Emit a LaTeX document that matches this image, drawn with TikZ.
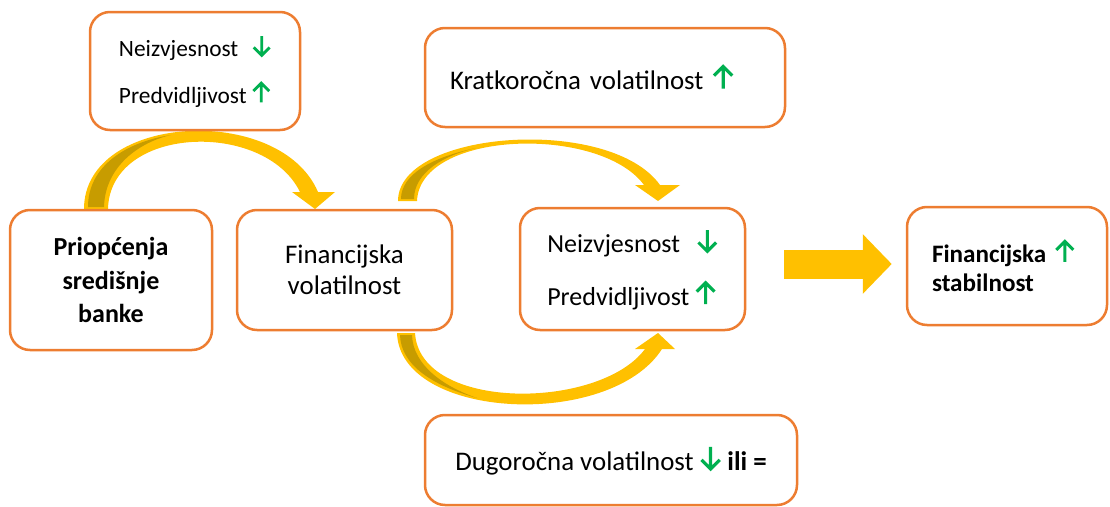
\documentclass[tikz,border=0pt]{standalone}
\usepackage{fontspec}
\setmainfont{Carlito}
\usetikzlibrary{arrows.meta}

\definecolor{narancasta}{HTML}{ED7D31}
\definecolor{zuta}{HTML}{FFC000}
\definecolor{tamnozuta}{HTML}{C79C00}
\definecolor{zelena}{HTML}{00B050}

\newdimen\pik
\pik=0.02cm
% green up / down arrows, sized by the current font
\tikzset{strelica/.style={x=1em, y=1em, baseline=-0.04em, sharp corners,
  line cap=butt, line join=miter}}
\newcommand{\rast}{\tikz[strelica]
  \draw[zelena, line width=0.12em] (0,0) -- (0,0.82) (-0.34,0.48) -- (0,0.82) -- (0.34,0.48);}
\newcommand{\pad}{\tikz[strelica]
  \draw[zelena, line width=0.12em] (0,0.82) -- (0,0) (-0.34,0.34) -- (0,0) -- (0.34,0.34);}

\begin{document}
\begin{tikzpicture}[x=0.02cm, y=-0.02cm,
  kutija/.style={draw=narancasta, line width=2.5\pik, rounded corners=20\pik,
    fill=white, align=center, inner sep=0pt},
  veliki/.style={font=\fontsize{15.3}{18.4}\selectfont}]
  \useasboundingbox (0,0) rectangle (1110,507);

  % Curved arrows (drawn first, boxes cover the ends)
  \fill[zuta] (84,209) .. controls (84,113) and (280,103) .. (318,192)
    -- (300,192) .. controls (265,120) and (110,125) .. (108,209) -- cycle;
  \fill[zuta] (292,192) -- (335,192) -- (315,209) -- cycle;
  \fill[tamnozuta] (88,207) .. controls (88,166) and (126,142) .. (171,135)
    .. controls (140,142) and (105,166) .. (104,207) -- cycle;

  \fill[zuta] (398,201) .. controls (398,130) and (610,115) .. (660,185)
    -- (644,185) .. controls (600,125) and (420,130) .. (417,201) -- cycle;
  \fill[zuta] (635,185) -- (680,185) -- (658,201) -- cycle;
  \fill[tamnozuta] (401,199) .. controls (401,174) and (433,157) .. (476,148)
    .. controls (445,155) and (414,172) .. (414,199) -- cycle;

  \fill[zuta] (397,333) .. controls (400,420) and (610,430) .. (662,349)
    -- (645,349) .. controls (600,410) and (420,412) .. (415,333) -- cycle;
  \fill[zuta] (635,349) -- (675,349) -- (658,333) -- cycle;
  \fill[tamnozuta] (400,335) .. controls (401,366) and (434,386) .. (477,398)
    .. controls (445,387) and (413,366) .. (412,335) -- cycle;

  % Boxes
  \node[kutija, minimum width=210\pik, minimum height=118\pik, align=left,
    font=\fontsize{13.3}{26.7}\selectfont] (neizvjesnost) at (195,71)
    {Neizvjesnost\hspace{0.6em}\pad\\Predvidljivost~\rast};
  \node[kutija, veliki, minimum width=360\pik, minimum height=99\pik,
    align=left, text width=310\pik] (kratkorocna) at (605,77.5)
    {\mbox{Kratkoročna volatilnost~\rast}};
  \node[kutija, minimum width=202\pik, minimum height=140\pik,
    font=\fontsize{14.8}{19}\selectfont\bfseries] (priopcenja) at (111,280)
    {Priopćenja\\središnje\\banke};
  \node[kutija, minimum width=215\pik, minimum height=120\pik,
    font=\fontsize{15.3}{17.6}\selectfont] (volatilnost) at (344.5,270)
    {Financijska\\volatilnost};
  \node[kutija, minimum width=225\pik, minimum height=122\pik, align=left,
    font=\fontsize{14.8}{30}\selectfont] (ucinak) at (632.5,269)
    {Neizvjesnost\hspace{0.65em}\pad\\Predvidljivost~\rast};
  \node[kutija, minimum width=200\pik, minimum height=118\pik, align=left,
    text width=150\pik, font=\fontsize{14.3}{16.5}\selectfont\bfseries] (stabilnost) at (1007,266)
    {Financijska~\rast\\stabilnost};
  \node[kutija, veliki, minimum width=372\pik, minimum height=90\pik] (dugorocna) at (611,460)
    {Dugoročna volatilnost~\pad~\textbf{ili =}};

  % Straight arrow
  \draw[zuta, line width=29\pik, -{Triangle[length=0.58cm, width=1.16cm]}]
    ([xshift=38\pik, yshift=5\pik]ucinak.east) -- ([xshift=-14\pik, yshift=2\pik]stabilnost.west);
\end{tikzpicture}
\end{document}
